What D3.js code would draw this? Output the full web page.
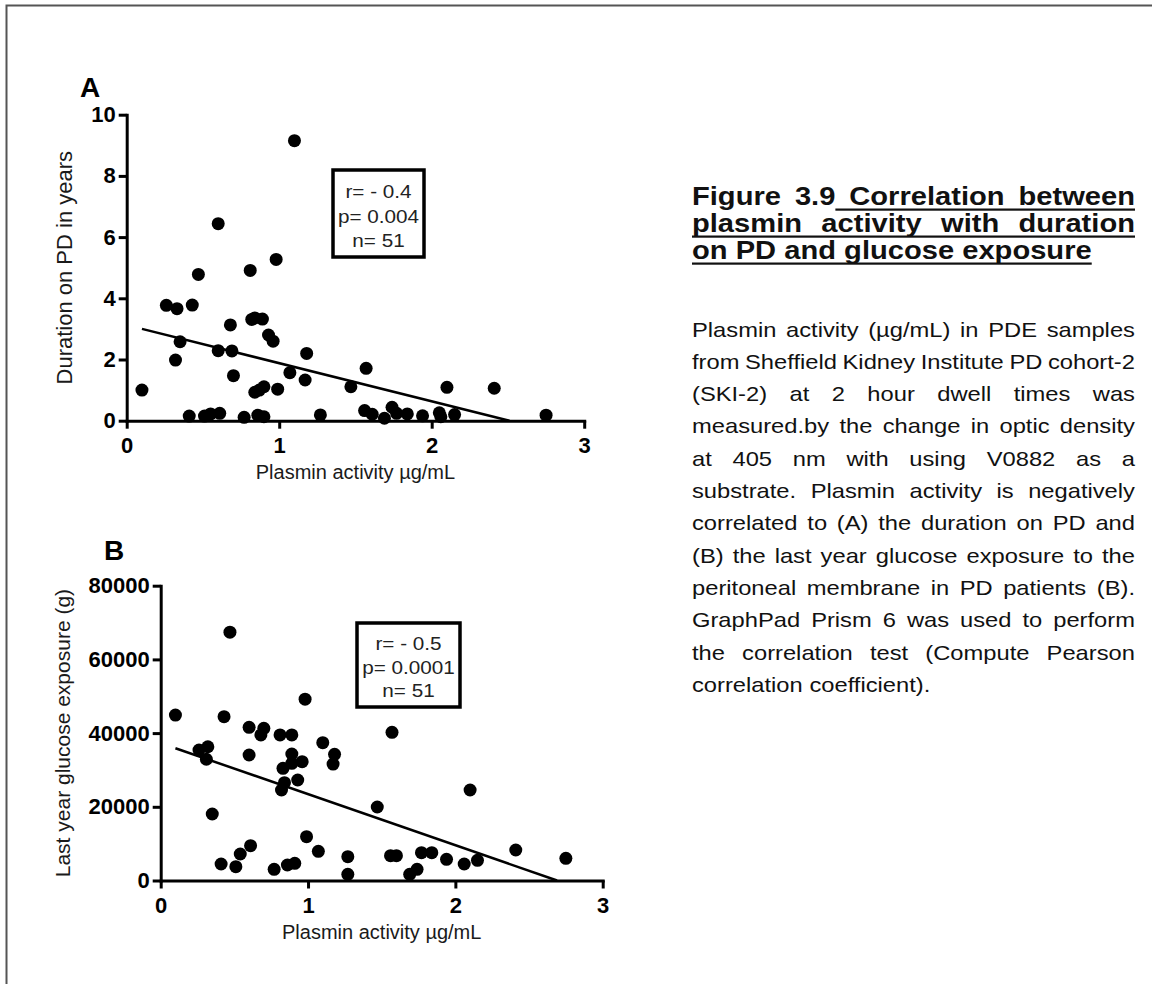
<!DOCTYPE html>
<html>
<head>
<meta charset="utf-8">
<script src="https://cdn.jsdelivr.net/npm/d3@7"></script>
<style>
body { margin: 0; background: #fff; }
svg { display: block; font-family: Arial, "Liberation Sans", sans-serif; }
</style>
</head>
<body>
<div id="plot"></div>
<script>
let width = 1152;
let height = 984;

// panel A: plasmin activity (ug/mL) vs duration on PD (years)
let plasminA = [0.10, 1.10, 0.60, 0.98, 0.81, 0.47, 0.26, 0.33, 0.43, 0.68,
    0.82, 0.84, 0.89, 0.93, 0.96, 0.35, 0.32, 0.60, 0.69, 0.70,
    1.18, 1.07, 1.17, 1.57, 1.47, 0.84, 0.87, 0.90, 0.99, 2.10,
    2.41, 0.41, 0.51, 0.55, 0.61, 0.77, 0.86, 0.90, 1.27, 1.56,
    1.61, 1.69, 1.74, 1.77, 1.84, 1.94, 2.05, 2.06, 2.15, 2.75];
let durationA = [1.00, 9.15, 6.44, 5.27, 4.91, 4.78, 3.77, 3.66, 3.78, 3.13,
    3.31, 3.36, 3.32, 2.80, 2.60, 2.58, 1.98, 2.29, 2.28, 1.47,
    2.20, 1.57, 1.33, 1.71, 1.11, 0.93, 1.00, 1.11, 1.03, 1.09,
    1.06, 0.15, 0.15, 0.22, 0.24, 0.11, 0.18, 0.13, 0.19, 0.33,
    0.21, 0.08, 0.44, 0.24, 0.22, 0.16, 0.26, 0.13, 0.20, 0.18];

// panel B: plasmin activity (ug/mL) vs last year glucose exposure (g)
let plasminB = [0.10, 0.47, 0.98, 0.43, 0.60, 0.70, 0.68, 0.81, 0.89, 1.10,
    1.57, 0.26, 0.32, 0.31, 0.60, 0.89, 0.96, 0.89, 0.83, 1.18,
    1.17, 0.84, 0.82, 0.93, 1.47, 0.35, 0.99, 2.10, 1.07, 0.61,
    0.54, 0.41, 0.51, 0.77, 0.86, 0.91, 1.27, 1.27, 1.56, 1.60,
    1.69, 1.74, 1.77, 1.84, 1.94, 2.06, 2.15, 2.41, 2.75];
let glucoseB = [44900, 67400, 49200, 44450, 41570, 41300, 39500, 39500, 39500, 37400,
    40200, 35400, 36300, 32900, 34050, 34330, 32240, 31800, 30450, 34250,
    31600, 26540, 24560, 27270, 19950, 18050, 11900, 24560, 7920, 9450,
    7190, 4480, 3750, 3030, 4200, 4660, 6470, 1680, 6740, 6740,
    1680, 3040, 7550, 7550, 5750, 4480, 5480, 8280, 6020];

// fitted regression lines (end points)
let fitAx = [0.10, 2.51];
let fitAy = [3.0, 0];
let fitBx = [0.10, 2.69];
let fitBy = [35900, 0];

let xTicks = [0, 1, 2, 3];
let yTicksA = [0, 2, 4, 6, 8, 10];
let yTicksB = [0, 20000, 40000, 60000, 80000];

let statsA = ["r= - 0.4", "p= 0.004", "n= 51"];
let statsB = ["r= - 0.5", "p= 0.0001", "n= 51"];

let titleLines = [
    "Figure 3.9 Correlation between",
    "plasmin activity with duration",
    "on PD and glucose exposure"
];
let bodyLines = [
    "Plasmin activity (µg/mL) in PDE samples",
    "from Sheffield Kidney Institute PD cohort-2",
    "(SKI-2) at 2 hour dwell times was",
    "measured.by the change in optic density",
    "at 405 nm with using V0882 as a",
    "substrate. Plasmin activity is negatively",
    "correlated to (A) the duration on PD and",
    "(B) the last year glucose exposure to the",
    "peritoneal membrane in PD patients (B).",
    "GraphPad Prism 6 was used to perform",
    "the correlation test (Compute Pearson",
    "correlation coefficient)."
];

let svg = d3.select("#plot")
    .append("svg")
    .attr("width", width)
    .attr("height", height);

svg.append("rect")
    .attr("width", width).attr("height", height)
    .attr("fill", "#fff");

// page frame (only left and top edges visible)
svg.append("rect")
    .attr("x", 6.5).attr("y", 5.5)
    .attr("width", 1300).attr("height", 1300)
    .attr("fill", "none")
    .attr("stroke", "#555")
    .attr("stroke-width", 2);

function drawPanel(cfg) {
    let xScale = d3.scaleLinear().domain([0, 3]).range(cfg.xRange);
    let yScale = d3.scaleLinear().domain(cfg.yDomain).range(cfg.yRange);
    let g = svg.append("g");

    let xAxis = d3.axisBottom(xScale)
        .tickValues(xTicks)
        .tickSize(8)
        .tickSizeOuter(0)
        .tickPadding(9)
        .tickFormat(d3.format("d"));

    let yAxis = d3.axisLeft(yScale)
        .tickValues(cfg.yTicks)
        .tickSize(8)
        .tickSizeOuter(0)
        .tickPadding(3)
        .tickFormat(d3.format("d"));

    g.append("g")
        .attr("transform", "translate(0," + yScale(0) + ")")
        .call(xAxis);
    g.append("g")
        .attr("transform", "translate(" + xScale(0) + ",0)")
        .call(yAxis);

    g.selectAll(".domain")
        .attr("stroke", "#000")
        .attr("stroke-width", 3)
        .attr("stroke-linecap", "square");
    g.selectAll(".tick line")
        .attr("stroke", "#000")
        .attr("stroke-width", 3);
    g.selectAll(".tick text")
        .attr("fill", "#000")
        .style("font-size", "22px")
        .style("font-weight", "bold")
        .style("font-family", "Arial, 'Liberation Sans', sans-serif");

    // regression line
    g.append("line")
        .attr("x1", xScale(cfg.fitX[0])).attr("y1", yScale(cfg.fitY[0]))
        .attr("x2", xScale(cfg.fitX[1])).attr("y2", yScale(cfg.fitY[1]))
        .attr("stroke", "#000")
        .attr("stroke-width", 2.5);

    g.selectAll("circle.pt")
        .data(cfg.xs)
        .enter()
        .append("circle")
        .attr("class", "pt")
        .attr("cx", d => xScale(d))
        .attr("cy", (d, i) => yScale(cfg.ys[i]))
        .attr("r", 6.5)
        .attr("fill", "#000");

    // axis titles
    let xMid = (cfg.xRange[0] + cfg.xRange[1]) / 2;
    g.append("text")
        .attr("x", xMid)
        .attr("y", yScale(0) + cfg.xTitleDy)
        .attr("text-anchor", "middle")
        .style("font-size", "20px")
        .attr("fill", "#1a1a1a")
        .text(cfg.xTitle);

    let yMid = (cfg.yRange[0] + cfg.yRange[1]) / 2;
    g.append("text")
        .attr("transform", "translate(" + cfg.yTitleX + "," + yMid + ") rotate(-90)")
        .attr("text-anchor", "middle")
        .style("font-size", cfg.yTitleSize + "px")
        .attr("fill", "#1a1a1a")
        .text(cfg.yTitle);

    // panel letter
    g.append("text")
        .attr("x", cfg.letterPos[0])
        .attr("y", cfg.letterPos[1])
        .style("font-size", "28px")
        .style("font-weight", "bold")
        .attr("fill", "#000")
        .text(cfg.letter);

    // stats box
    let b = cfg.box;
    g.append("rect")
        .attr("x", b[0]).attr("y", b[1])
        .attr("width", b[2] - b[0]).attr("height", b[3] - b[1])
        .attr("fill", "none")
        .attr("stroke", "#000")
        .attr("stroke-width", 3.5);
    cfg.stats.forEach(function (s, i) {
        g.append("text")
            .attr("transform", "translate(" + ((b[0] + b[2]) / 2) + "," + (cfg.statY0 + i * cfg.statStep) + ") scale(1.15,1)")
            .attr("text-anchor", "middle")
            .style("font-size", "18px")
            .attr("fill", "#222")
            .text(s);
    });
}

drawPanel({
    xs: plasminA, ys: durationA,
    xRange: [126.7, 584.2], yDomain: [0, 10], yRange: [420.7, 114.7],
    yTicks: yTicksA, fitX: fitAx, fitY: fitAy,
    xTitle: "Plasmin activity µg/mL", yTitle: "Duration on PD in years",
    xTitleDy: 58, yTitleX: 72, yTitleSize: 22, letter: "A", letterPos: [80, 97],
    box: [333, 170, 424, 257], stats: statsA, statY0: 198, statStep: 24.5
});

drawPanel({
    xs: plasminB, ys: glucoseB,
    xRange: [160.7, 602.7], yDomain: [0, 80000], yRange: [880.5, 585.7],
    yTicks: yTicksB, fitX: fitBx, fitY: fitBy,
    xTitle: "Plasmin activity µg/mL", yTitle: "Last year glucose exposure (g)",
    xTitleDy: 58, yTitleX: 70, yTitleSize: 21, letter: "B", letterPos: [104, 560],
    box: [357, 623, 460, 707], stats: statsB, statY0: 650, statStep: 23.5
});

// justified caption lines, word by word
function drawLines(lines, opts) {
    let g = svg.append("g");
    lines.forEach(function (line, i) {
        let words = line.split(" ");
        let y = opts.y0 + i * opts.step;
        let texts = words.map(w => g.append("text")
            .style("font-size", opts.size + "px")
            .style("font-weight", opts.weight)
            .attr("fill", "#111")
            .text(w));
        let widths = texts.map(t => t.node().getComputedTextLength() * opts.sx);
        let total = d3.sum(widths);
        let justify = i < lines.length - 1 && words.length > 1;
        let gap = justify ? (opts.right - opts.left - total) / (words.length - 1)
            : 0.278 * opts.size * opts.sx;
        let x = opts.left;
        let ends = [];
        texts.forEach(function (t, k) {
            t.attr("transform", "translate(" + x + "," + y + ") scale(" + opts.sx + ",1)");
            ends.push([x, x + widths[k]]);
            x += widths[k] + gap;
        });
        if (opts.underlineFrom) {
            let k = opts.underlineFrom[i];
            let start = k === 0 ? ends[0][0] : ends[k - 1][1];
            g.append("rect")
                .attr("x", start)
                .attr("y", y + 3.5)
                .attr("width", ends[ends.length - 1][1] - start)
                .attr("height", 2.2)
                .attr("fill", "#111");
        }
    });
}

drawLines(titleLines, {
    left: 692, right: 1135, y0: 205, step: 27,
    size: 26, sx: 1.12, weight: "bold", underlineFrom: [2, 0, 0]
});

drawLines(bodyLines, {
    left: 692, right: 1135, y0: 336.5, step: 32.3,
    size: 21, sx: 1.13, weight: "normal"
});
</script>
</body>
</html>
